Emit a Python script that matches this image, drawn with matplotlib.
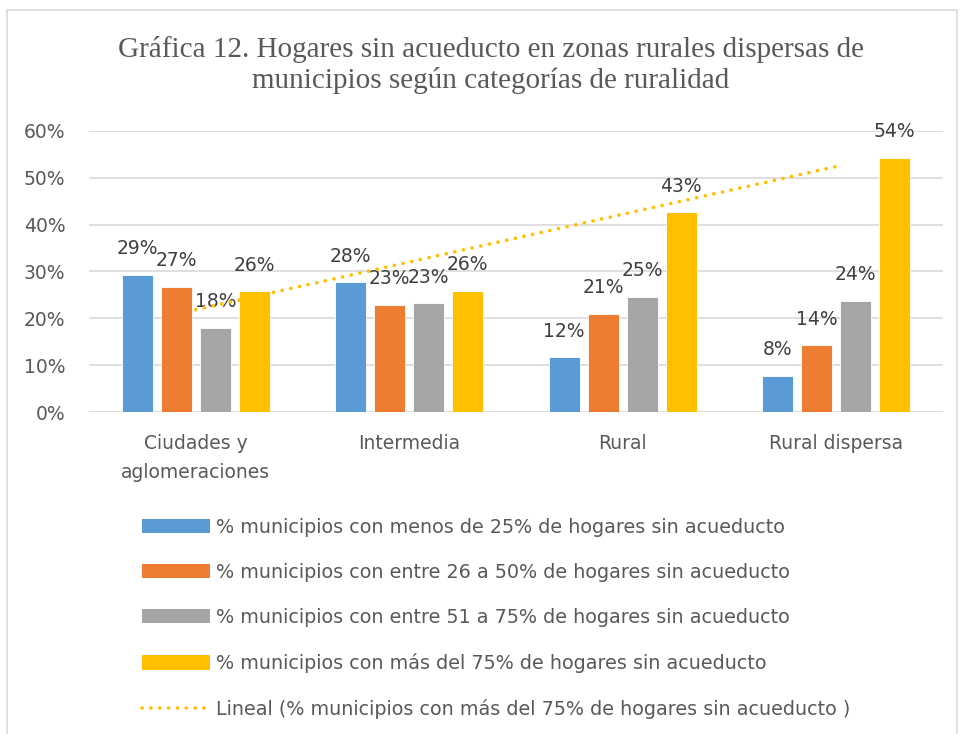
import numpy as np
import matplotlib
matplotlib.use("Agg")
import matplotlib.pyplot as plt
from matplotlib.patches import Patch, Rectangle
from matplotlib.lines import Line2D

categories = ["Ciudades y\naglomeraciones", "Intermedia", "Rural", "Rural dispersa"]
menos_25 = [29.3, 27.7, 11.7, 7.7]
entre_26_50 = [26.7, 22.9, 20.9, 14.2]
entre_51_75 = [18.0, 23.2, 24.6, 23.7]
mas_75 = [25.8, 25.9, 42.6, 54.2]
series_names = [
    "% municipios con menos de 25% de hogares sin acueducto",
    "% municipios con entre 26 a 50% de hogares sin acueducto",
    "% municipios con entre 51 a 75% de hogares sin acueducto",
    "% municipios con más del 75% de hogares sin acueducto",
]
trend_name = "Lineal (% municipios con más del 75% de hogares sin acueducto )"
colors = ["#5B9BD5", "#ED7D31", "#A5A5A5", "#FFC000"]

fig = plt.figure(figsize=(9.6, 7.34), dpi=100)
fig.patches.append(Rectangle((7/960, -0.1), 950/960, 1.1 - 10/734, transform=fig.transFigure,
                             fill=False, edgecolor="#D9D9D9", lw=1.2))

ax = fig.add_axes([89/960, 1 - 412/734, 854/960, 281/734])

x = np.arange(len(categories))
step = 0.1827
width = 0.145
all_series = [menos_25, entre_26_50, entre_51_75, mas_75]
for i, (vals, c) in enumerate(zip(all_series, colors)):
    pos = x + (i - 1.5) * step
    v = np.array(vals) / 100
    ax.bar(pos, v, width, color=c, edgecolor="white", linewidth=0.6, zorder=2)
    for px, py in zip(pos, v):
        ax.annotate("%d%%" % round(py * 100), (px, py), xytext=(0, 12), textcoords="offset points",
                    ha="center", va="bottom", fontsize=13.5, color="#404040")

# linear trendline of the last series
coef = np.polyfit(x, np.array(mas_75) / 100, 1)
ax.plot(x, np.polyval(coef, x), color="#FFC000", lw=2.6, linestyle=(0, (0.05, 2.4)),
        dash_capstyle="round", zorder=3)

ax.set_xlim(-0.5, 3.5)
ax.set_ylim(0, 0.6)
ax.set_yticks(np.arange(0, 0.61, 0.1))
ax.set_yticklabels(["%d%%" % (t * 100) for t in np.arange(0, 0.61, 0.1).round(2)])
ax.set_xticks(x)
ax.set_xticklabels(categories, linespacing=1.62)
ax.tick_params(axis="y", length=0, pad=17, labelsize=13.5, labelcolor="#595959")
ax.tick_params(axis="x", length=0, pad=16, labelsize=13.5, labelcolor="#595959")
ax.grid(axis="y", color="#D9D9D9", lw=1.2, zorder=0)
ax.set_axisbelow(True)
for s in ax.spines.values():
    s.set_visible(False)

fig.text(491/960, 1 - 65/734, "Gráfica 12. Hogares sin acueducto en zonas rurales dispersas de\n"
         "municipios según categorías de ruralidad", ha="center", va="center",
         fontsize=21, family="Liberation Serif", color="#595959", linespacing=1.2)

handles = [Patch(facecolor=c) for c in colors]
handles.append(Line2D([0], [0], color="#FFC000", lw=2.6, linestyle=(0, (0.05, 2.4)), dash_capstyle="round"))
fig.legend(handles, series_names + [trend_name], loc="upper left",
           bbox_to_anchor=(142/960, 1 - 518/734), frameon=False, borderpad=0, borderaxespad=0,
           fontsize=13.8, labelcolor="#595959", handlelength=3.55, handleheight=0.75,
           handletextpad=0.3, labelspacing=1.36)

fig.savefig("out.png", dpi=100)
